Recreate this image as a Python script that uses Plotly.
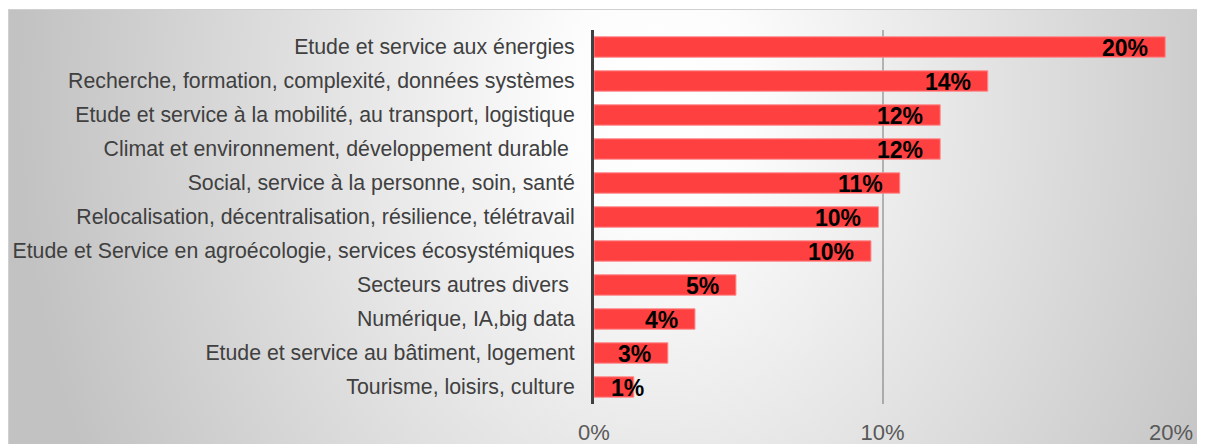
import base64
import plotly.graph_objects as go

categories = [
    "Etude et service aux énergies",
    "Recherche, formation, complexité, données systèmes",
    "Etude et service à la mobilité, au transport, logistique",
    "Climat et environnement, développement durable\u00a0",
    "Social, service à la personne, soin, santé",
    "Relocalisation, décentralisation, résilience, télétravail",
    "Etude et Service en agroécologie, services écosystémiques",
    "Secteurs autres divers\u00a0",
    "Numérique, IA,big data",
    "Etude et service au bâtiment, logement",
    "Tourisme, loisirs, culture",
]
values = [19.8, 13.65, 12.0, 12.0, 10.6, 9.86, 9.6, 4.92, 3.5, 2.56, 1.38]
value_labels = ["20%", "14%", "12%", "12%", "11%", "10%", "10%", "5%", "4%", "3%", "1%"]
x_tickvals = [0, 10, 20]
x_ticktext = ["0%", "10%", "20%"]

# page body has an 8px margin; figure sized to fill the rest of the window
W, H = 1197, 436
ML, MR, MT, MB = 586, 34, 22, 40
PW = W - ML - MR
PH = H - MT - MB

# radial gradient background (chart area box)
bx0, by0, bx1, by1 = 0, 1, W, H
bw, bh = bx1 - bx0, by1 - by0
svg = f'''<svg xmlns="http://www.w3.org/2000/svg" width="{bw}" height="{bh}" viewBox="0 0 {bw} {bh}" preserveAspectRatio="none">
<defs><radialGradient id="g" gradientUnits="userSpaceOnUse" cx="0" cy="0" r="1"
gradientTransform="translate(650,90) scale(640,820)">
<stop offset="0" stop-color="#ffffff"/><stop offset="0.15" stop-color="#fcfcfc"/>
<stop offset="1" stop-color="#c2c2c2"/></radialGradient></defs>
<rect x="0" y="0" width="{bw}" height="{bh}" fill="url(#g)"/>
<rect x="0.5" y="0.5" width="{bw}" height="{bh}" fill="none" stroke="#d0d0d0" stroke-width="1"/>
</svg>'''
src = "data:image/svg+xml;base64," + base64.b64encode(svg.encode("utf-8")).decode()

fig = go.Figure()
fig.add_trace(go.Bar(
    y=categories, x=values, orientation="h",
    marker=dict(color="#ff4040", line=dict(color="#ff8c8c", width=1)),
    width=0.6, hoverinfo="skip",
))

label_font = dict(family="Liberation Sans, Arial", size=23, color="#000000")
for cat, v, lab in zip(categories, values, value_labels):
    if v < 2:
        fig.add_annotation(x=0, y=cat, text=f"<b>{lab}</b>", showarrow=False,
                           xanchor="left", xshift=15, yshift=-1, font=label_font)
    else:
        fig.add_annotation(x=v, y=cat, text=f"<b>{lab}</b>", showarrow=False,
                           xanchor="right", xshift=-15, yshift=-1, font=label_font)

fig.add_layout_image(
    source=src, xref="paper", yref="paper",
    x=(bx0 - ML) / PW, y=(H - MB - by0) / PH,
    sizex=bw / PW, sizey=bh / PH,
    xanchor="left", yanchor="top", sizing="stretch", layer="below",
)

fig.update_layout(
    width=W, height=H,
    margin=dict(l=ML, r=MR, t=MT, b=MB, pad=0, autoexpand=False),
    paper_bgcolor="#ffffff", plot_bgcolor="rgba(0,0,0,0)",
    showlegend=False,
    xaxis=dict(range=[0, 20], tickvals=x_tickvals, ticktext=x_ticktext,
               showgrid=True, gridcolor="rgba(0,0,0,0.25)", gridwidth=2,
               zeroline=False, showline=False, ticks="",
               tickfont=dict(family="Liberation Sans, Arial", size=22, color="#595959"),
               ticklabelstandoff=13, fixedrange=True),
    yaxis=dict(autorange="reversed", showgrid=False, zeroline=False,
               showline=True, linecolor="#404040", linewidth=3, ticks="",
               tickfont=dict(family="Liberation Sans, Arial", size=21.3, color="#404040"),
               ticklabelstandoff=12, fixedrange=True),
    bargap=0.4,
)

fig.write_html("out.html")
